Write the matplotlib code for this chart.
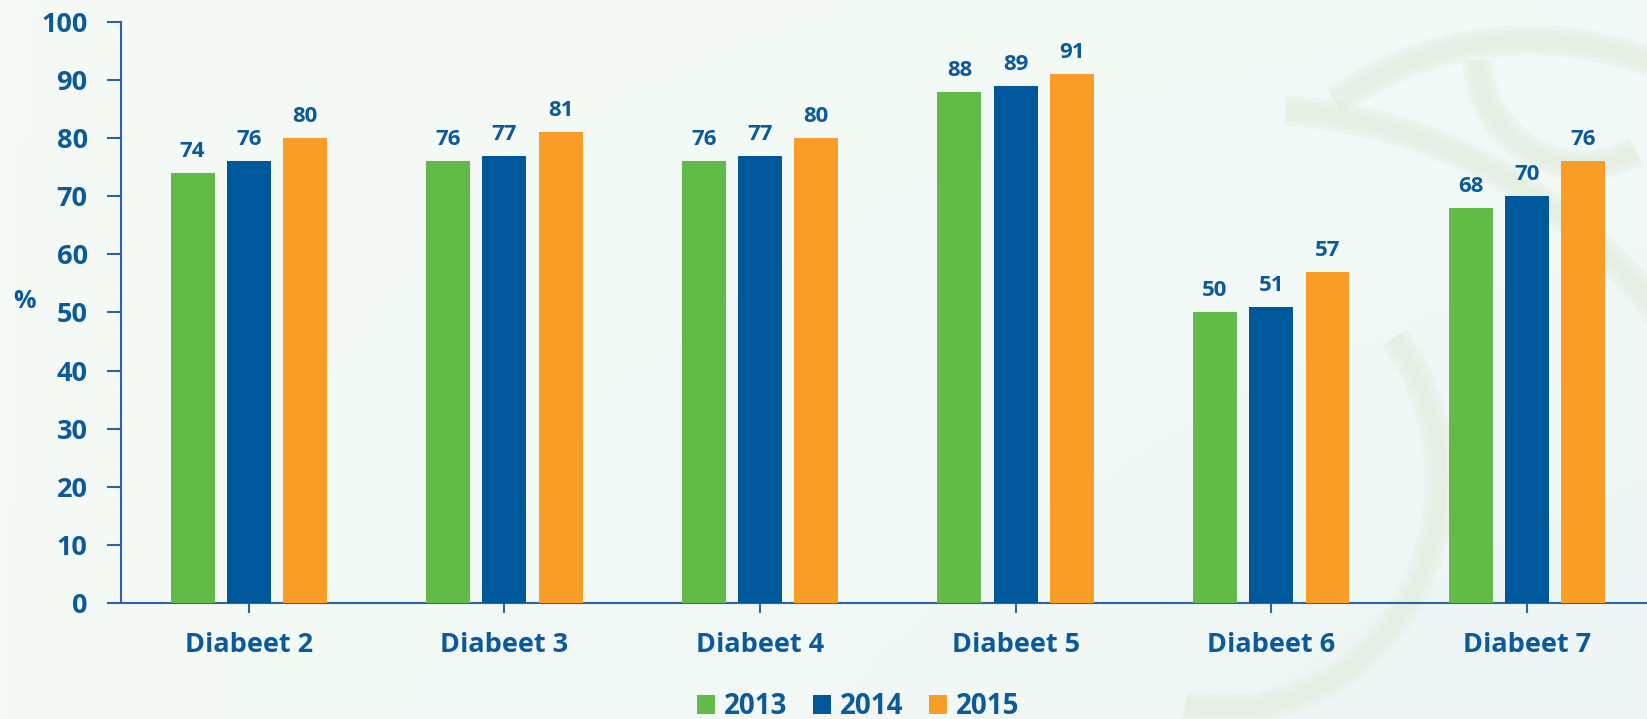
import numpy as np
import matplotlib
matplotlib.use("Agg")
import matplotlib.pyplot as plt
from matplotlib.patches import Arc
from matplotlib.colors import LinearSegmentedColormap

plt.rcParams["font.family"] = ["Open Sans", "DejaVu Sans"]
plt.rcParams["font.weight"] = "bold"

categories = ["Diabeet 2", "Diabeet 3", "Diabeet 4", "Diabeet 5", "Diabeet 6", "Diabeet 7"]
years = ["2013", "2014", "2015"]
v2013 = [74, 76, 76, 88, 50, 68]
v2014 = [76, 77, 77, 89, 51, 70]
v2015 = [80, 81, 80, 91, 57, 76]

colors = ["#62bb46", "#00589c", "#f99d27"]
text_col = "#0b5a9b"
axis_col = "#2a64a3"
bg = "#f4f9f6"

W, H = 1647, 719
fig = plt.figure(figsize=(W / 100, H / 100), dpi=100, facecolor=bg)

# soft background: light gradient plus faint decorative rings
bg_ax = fig.add_axes([0, 0, 1, 1], zorder=0)
bg_ax.set_xlim(0, W)
bg_ax.set_ylim(0, H)
bg_ax.axis("off")
gx, gy = np.meshgrid(np.linspace(0, 1, 200), np.linspace(0, 1, 100))
grad = 0.6 * gx * (1 - gy) + 0.2 * gx
cmap = LinearSegmentedColormap.from_list("bgc", ["#f5faf6", "#edf6f5"])
bg_ax.imshow(grad, extent=[0, W, 0, H], cmap=cmap, aspect="auto", origin="lower")

rings = [
    ((1530, 339), 680, 680, 40, 125),
    ((1250, 100), 1020, 1020, 36, 86),
    ((1583, 659), 210, 210, 180, 300),
    ((1225, 239), 430, 460, -100, 40),
]
for (cx, cy), rw, rh, t1, t2 in rings:
    for lw in (22, 16, 10):
        bg_ax.add_patch(Arc((cx, cy), rw, rh, theta1=t1, theta2=t2,
                            color="#dfeddb", lw=lw, alpha=0.3))

ax = fig.add_axes([0.0735, 0.1614, 0.9265, 0.808], zorder=1)
ax.set_facecolor("none")

x = np.arange(len(categories))
width = 0.172
step = 0.22
for i, (vals, c, yr) in enumerate(zip([v2013, v2014, v2015], colors, years)):
    bars = ax.bar(x + (i - 1) * step, vals, width, color=c, label=yr, zorder=3)
    for b, v in zip(bars, vals):
        ax.annotate(str(v), (b.get_x() + b.get_width() / 2, v), xytext=(0, 8),
                    textcoords="offset points", ha="center", va="bottom",
                    fontsize=16, fontweight="bold", color=text_col)

ax.set_xlim(-0.5, 5.47)
ax.set_ylim(0, 100)
ax.set_yticks(range(0, 101, 10))
ax.set_xticks(x)
ax.set_xticklabels(categories)

for s in ["top", "right"]:
    ax.spines[s].set_visible(False)
for s in ["left", "bottom"]:
    ax.spines[s].set_color(axis_col)
    ax.spines[s].set_linewidth(1.5)
ax.tick_params(axis="y", colors=axis_col, labelcolor=text_col, labelsize=19.5,
               length=10, width=1.5, pad=14)
ax.tick_params(axis="x", colors=axis_col, labelcolor=text_col, labelsize=19.5,
               length=7, width=1.5, pad=14)
for lab in ax.get_xticklabels() + ax.get_yticklabels():
    lab.set_fontweight("bold")

fig.text(0.0146, 0.58, "%", fontsize=18, fontweight="bold", color=text_col,
         ha="center", va="center")

leg = fig.legend(loc="center", bbox_to_anchor=(0.521, 0.0167), ncol=3, frameon=False,
                 fontsize=20, handlelength=0.65, handleheight=0.65, handletextpad=0.32,
                 columnspacing=0.93, borderpad=0)
for t in leg.get_texts():
    t.set_color(text_col)
    t.set_fontweight("bold")

fig.savefig("out.png", dpi=100, facecolor=bg)
